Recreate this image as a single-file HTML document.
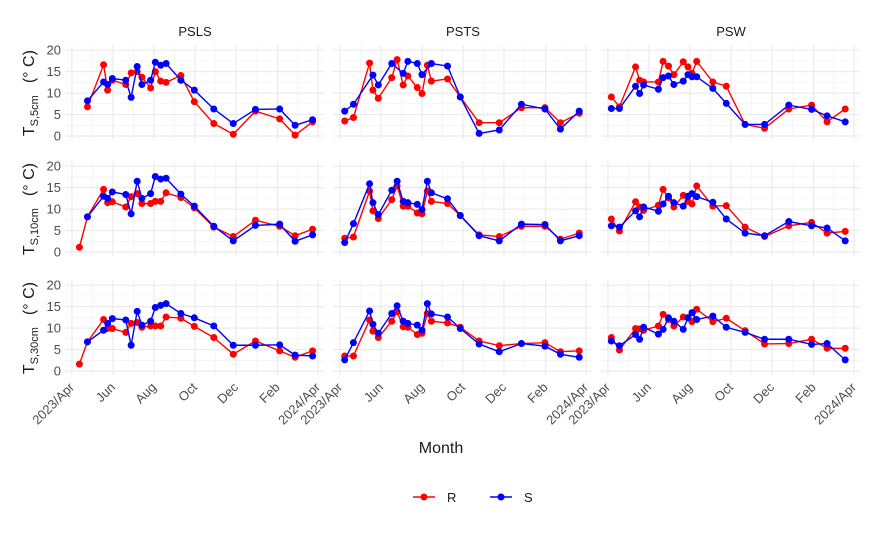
<!DOCTYPE html>
<html><head><meta charset="utf-8"><style>
body{margin:0;background:#fff;}
svg text{font-family:"Liberation Sans",sans-serif;}
</style></head><body>
<svg id="chart" width="875" height="540" xmlns="http://www.w3.org/2000/svg"></svg>
<script>
const sites = ["PSLS","PSTS","PSW"];
const depths = ["5cm","10cm","30cm"];
const monthTickDays = [0,61,122,183,244,306,366];
const monthTickLabels = ["2023/Apr","Jun","Aug","Oct","Dec","Feb","2024/Apr"];
const yTicks = [0,5,10,15,20];
const datesPSLS = [11,23,47,53,60,80,88,97,104,117,124,132,140,162,182,211,240,273,309,332,358];
const datesPSTS = [7,20,44,49,57,77,85,94,101,115,122,130,136,160,179,207,237,270,305,328,356];
const datesPSW = [5,17,41,47,53,75,82,90,98,112,119,125,132,156,176,204,233,269,303,326,353];
// PSLS
const psls5R = [null,6.8,16.6,10.7,13,12,14.7,15,13.7,11.2,15,12.8,12.5,14.1,8,2.9,0.4,5.8,4,0.2,3.3];
const psls5S = [null,8.2,12.6,12,13.4,13,9,16.2,12,13,17.2,16.5,16.9,13,10.7,6.3,2.9,6.2,6.3,2.5,3.8];
const psls10R = [1.1,8.2,14.6,11.5,11.7,10.5,12.9,13.6,11.3,11.3,11.8,11.8,13.8,12.7,10.3,5.8,3.6,7.4,6,3.8,5.3];
const psls10S = [null,8.2,13,12.5,14,13.4,8.9,16.5,12.5,13.6,17.6,17,17.2,13.5,10.7,6,2.6,6.2,6.5,2.5,4];
const psls30R = [1.6,6.8,12,9.9,9.9,9,11.1,11.3,10.2,10.5,10.5,10.5,12.6,12.3,10.4,7.8,3.9,7,4.7,3.2,4.7];
const psls30S = [null,6.8,9.5,11.1,12.2,11.9,6,13.9,10.7,11.6,14.8,15.3,15.7,13.4,12.4,10.5,6,6,6.1,3.7,3.5];
// PSTS
const psts5R = [3.5,4.3,17,10.7,8.8,13.6,17.8,11.9,14,11.3,9.9,16.5,12.8,13.3,9.1,3.1,3.1,6.6,6.6,3.1,5.3];
const psts5S = [5.8,7.4,null,14.2,11.9,16.9,null,14.6,17.4,16.9,14.3,null,16.9,16.3,9.1,0.6,1.4,7.4,6.3,1.6,5.8];
const psts10R = [3.2,3.5,14.2,9.6,7.8,12.2,15.4,10.7,10.7,9.1,8.9,14.2,11.8,11.3,8.5,4,3.6,6,6,3,4.4];
const psts10S = [2.2,6.6,15.9,11.5,8.7,14.4,16.5,11.8,11.5,11.1,9.9,16.5,13.8,12.4,8.5,3.8,2.6,6.5,6.4,2.6,3.8];
const psts30R = [3.5,3.5,11.9,9.3,7.8,11.6,13.8,10.3,10.2,8.5,8.8,13.4,11.6,11.2,10.2,7,5.9,6.4,6.6,4.5,4.7];
const psts30S = [2.6,6.6,14,10.9,8.8,13.4,15.2,11.6,11.1,10.7,9.5,15.7,13.3,12.6,9.9,6.3,4.5,6.4,5.8,3.9,3.2];
// PSW
const psw5R = [9.1,6.8,16.1,13,12.6,12.6,17.4,16.3,14.3,17.3,16.1,14.6,17.4,12.6,11.6,2.7,1.8,6.3,7.2,3.3,6.3];
const psw5S = [6.4,6.4,11.6,9.9,11.9,10.9,13.6,14,12,12.8,14.3,13.8,13.8,11.1,7.6,2.7,2.7,7.2,6.2,4.7,3.3];
const psw10R = [7.7,4.9,11.7,10.5,9.7,10.9,14.6,12.6,10.5,13.2,11.8,11.2,15.4,10.7,10.8,5.8,3.6,6.1,6.9,4.4,4.8];
const psw10S = [6.1,5.8,9.6,8.2,10.5,9.5,11.2,13,11.5,10.7,13,13.6,12.9,11.6,7.7,4.4,3.8,7.1,6.1,5.6,2.6];
const psw30R = [7.8,4.9,9.9,9.8,9.5,10.5,13.2,12,10.5,12.6,12.4,11.5,14.4,11.5,12.3,9.4,6.3,6.4,7.4,5.3,5.3];
const psw30S = [7,5.9,8.5,7.4,10.2,8.6,9.7,12.4,11.6,9.7,12.4,13.6,12,12.8,10.2,9,7.4,7.4,6.2,6.4,2.6];

const dates = [datesPSLS, datesPSTS, datesPSW];
const seriesR = [[psls5R,psls10R,psls30R],[psts5R,psts10R,psts30R],[psw5R,psw10R,psw30R]];
const seriesS = [[psls5S,psls10S,psls30S],[psts5S,psts10S,psts30S],[psw5S,psw10S,psw30S]];

const NS="http://www.w3.org/2000/svg";
const svg=document.getElementById('chart');
function mk(tag,attrs,parent){const e=document.createElementNS(NS,tag);for(const k in attrs)e.setAttribute(k,attrs[k]);(parent||svg).appendChild(e);return e;}
const colX0=[72,340,608], pxPerDay=0.672;
const rowY0=[136,252,371], pxPerUnit=4.29;
function xS(c,d){return colX0[c]+d*pxPerDay;}
function yS(r,v){return rowY0[r]-v*pxPerUnit;}

sites.forEach((s,c)=>{
  const t=mk('text',{x:colX0[c]+123,y:36,'text-anchor':'middle','font-size':13,fill:'#1a1a1a'});
  t.textContent=s;
  
  
});
for(let r=0;r<3;r++){
  for(let c=0;c<3;c++){
    const g=mk('g',{});
    
    
    const xl=colX0[c]-7, xr=colX0[c]+252, yt=yS(r,21.2), yb=yS(r,-0.9);
    for(let v=2.5;v<21;v+=5) mk('line',{x1:xl,x2:xr,y1:yS(r,v),y2:yS(r,v),stroke:'#f0f0f0','stroke-width':0.6},g);
    for(let i=0;i<monthTickDays.length-1;i++){const d=(monthTickDays[i]+monthTickDays[i+1])/2;mk('line',{x1:xS(c,d),x2:xS(c,d),y1:yt,y2:yb,stroke:'#f0f0f0','stroke-width':0.6},g);}
    yTicks.forEach(v=>mk('line',{x1:xl,x2:xr,y1:yS(r,v),y2:yS(r,v),stroke:'#ebebeb','stroke-width':1.2},g));
    monthTickDays.forEach(d=>mk('line',{x1:xS(c,d),x2:xS(c,d),y1:yt,y2:yb,stroke:'#ebebeb','stroke-width':1.2},g));
    [['R',seriesR[c][r],'#ff0000'],['S',seriesS[c][r],'#0000ff']].forEach(([nm,vals,col])=>{
      const pts=[];
      vals.forEach((v,i)=>{if(v!==null)pts.push([xS(c,dates[c][i]),yS(r,v)]);});
      const pl=mk('polyline',{points:pts.map(p=>p.join(',')).join(' '),fill:'none',stroke:col,'stroke-width':1.4},g);
      
      
      pts.forEach(p=>{
        const ci=mk('circle',{cx:p[0],cy:p[1],r:3.5,fill:col},g);
        
        
      });
    });
    if(c===0){
      yTicks.forEach(v=>{const t=mk('text',{x:61,y:yS(r,v)+4.5,'text-anchor':'end','font-size':13,fill:'#4d4d4d'});t.textContent=v;
        
        });
    }
    if(r===2){
      monthTickDays.forEach((d,i)=>{const x=xS(c,d),y=388;
        const t=mk('text',{x:x+3,y:y,'text-anchor':'end','font-size':13,fill:'#4d4d4d',transform:`rotate(-45 ${x+3} ${y})`});t.textContent=monthTickLabels[i];
        
        });
    }
  }
  const cy=yS(r,10);
  const yt=mk('text',{x:0,y:0,'font-size':16,fill:'#1a1a1a','text-anchor':'middle',transform:`translate(34 ${cy}) rotate(-90)`});
  yt.innerHTML=`T<tspan font-size="11" dy="4">S,${depths[r]}</tspan><tspan dy="-4" dx="12">(° C)</tspan>`;
  
  
}
const mt=mk('text',{x:441,y:453,'text-anchor':'middle','font-size':16,fill:'#1a1a1a'});mt.textContent='Month';


[['R','#ff0000',413],['S','#0000ff',490]].forEach(([nm,col,x])=>{
  const g=mk('g',{});
  
  
  mk('line',{x1:x,x2:x+22,y1:497,y2:497,stroke:col,'stroke-width':1.4},g);
  mk('circle',{cx:x+11,cy:497,r:3.5,fill:col},g);
  const t=mk('text',{x:x+34,y:502,'font-size':13,fill:'#1a1a1a'},g);t.textContent=nm;
});
</script>
</body></html>
